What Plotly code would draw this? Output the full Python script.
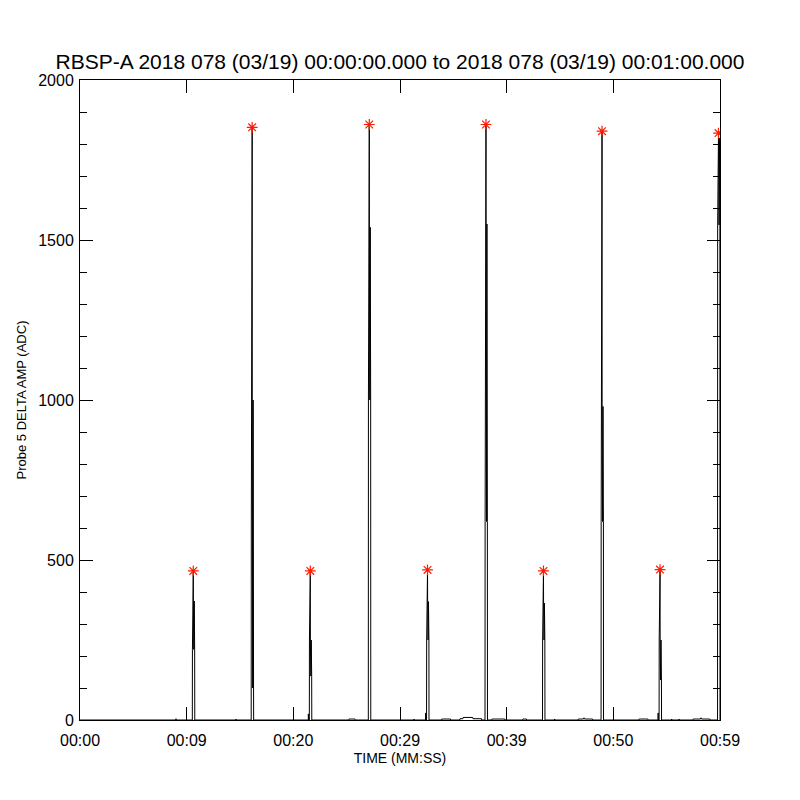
import plotly.graph_objects as go

# Probe 5 delta amplitude samples (time in seconds after 00:00:00, amplitude in ADC)
time_s = [
    0.00, 8.97, 9.00, 9.03,
    10.53, 10.54, 10.62, 10.63, 10.67, 10.71, 10.75, 10.76,
    14.60, 14.63, 14.66,
    16.05, 16.06, 16.14, 16.15, 16.19, 16.23, 16.27, 16.28,
    21.40, 21.41, 21.43, 21.50, 21.51, 21.59, 21.60, 21.64, 21.68, 21.72, 21.73,
    25.20, 25.22, 25.78, 25.80,
    27.03, 27.04, 27.12, 27.13, 27.17, 27.21, 27.25, 27.26,
    31.28, 31.31, 31.34,
    32.39, 32.40, 32.42, 32.49, 32.50, 32.58, 32.59, 32.63, 32.67, 32.71, 32.72,
    33.90, 33.92, 34.73, 34.75,
    35.60, 35.62, 35.90, 35.92, 36.82, 36.84, 37.64, 37.66,
    37.97, 37.98, 38.06, 38.07, 38.11, 38.15, 38.19, 38.20,
    38.60, 38.62, 39.82, 39.84,
    41.50, 41.52, 41.85, 41.87,
    43.36, 43.37, 43.45, 43.46, 43.50, 43.54, 43.58, 43.59,
    44.47, 44.50, 44.53,
    46.69, 46.71, 47.20, 47.25, 47.30, 48.05, 48.07,
    48.85, 48.86, 48.94, 48.95, 48.99, 49.03, 49.07, 49.08,
    52.40, 52.42, 53.23, 53.25,
    54.19, 54.20, 54.22, 54.29, 54.30, 54.38, 54.39, 54.43, 54.47, 54.51, 54.52,
    55.44, 55.47, 55.50, 56.13, 56.16, 56.19,
    57.47, 57.49, 58.17, 58.22, 58.27, 59.04, 59.06,
    59.77, 59.78, 59.86, 59.87, 59.91, 59.95, 59.99, 60.00,
]
amp_adc = [
    0, 0, 4, 0,
    0, 220, 466, 372, 220, 372, 220, 0,
    0, 3, 0,
    0, 600, 1852, 1000, 100, 1000, 100, 0,
    0, 19, 0, 0, 250, 466, 250, 137, 250, 137, 0,
    0, 3, 3, 0,
    0, 1000, 1861, 1540, 1000, 1540, 1000, 0,
    0, 3, 0,
    0, 22, 0, 0, 250, 469, 370, 250, 370, 250, 0,
    0, 3, 3, 0,
    0, 4, 4, 8, 8, 4, 4, 0,
    0, 620, 1861, 1550, 620, 1550, 620, 0,
    0, 3, 3, 0,
    0, 3, 3, 0,
    0, 250, 466, 365, 250, 365, 250, 0,
    0, 3, 0,
    0, 3, 3, 7, 3, 3, 0,
    0, 620, 1840, 980, 620, 980, 620, 0,
    0, 3, 3, 0,
    0, 22, 0, 0, 250, 470, 250, 125, 250, 125, 0,
    0, 3, 0, 0, 3, 0,
    0, 3, 3, 7, 3, 3, 0,
    0, 1547, 1834, 1818, 1547, 1818, 1547, 0,
]

# Detected peaks (red asterisks)
peak_time_s = [10.62, 16.14, 21.59, 27.12, 32.58, 38.06, 43.45, 48.94, 54.38, 59.86]
peak_amp_adc = [466, 1852, 466, 1861, 469, 1861, 466, 1840, 470, 1834]

# Axis ticks
x_tick_vals = [0, 10, 20, 30, 40, 50, 60]
x_tick_text = ["00:00", "00:09", "00:20", "00:29", "00:39", "00:50", "00:59"]

title_text = "RBSP-A 2018 078 (03/19) 00:00:00.000 to 2018 078 (03/19) 00:01:00.000"
FONT = "Liberation Sans, Arial, sans-serif"

fig = go.Figure()
fig.add_trace(go.Scatter(
    x=time_s, y=amp_adc, mode="lines",
    line=dict(color="black", width=1, simplify=False),
    showlegend=False, hoverinfo="skip",
))
fig.add_trace(go.Scatter(
    x=peak_time_s, y=peak_amp_adc, mode="markers",
    marker=dict(symbol="asterisk-open", size=9, color="#ff1a00",
                line=dict(color="#ff1a00", width=1.2)),
    showlegend=False, cliponaxis=True,
))

fig.update_layout(
    width=800, height=800,
    margin=dict(l=80, r=80, t=80, b=80),
    paper_bgcolor="white", plot_bgcolor="white",
    font=dict(family=FONT, color="black", size=16),
    title=dict(text=title_text, x=0.5, xanchor="center", y=1 - 62 / 800,
               yanchor="middle", yref="container",
               font=dict(family=FONT, size=21, color="black")),
)
fig.update_xaxes(
    range=[0, 60], tickmode="array", tickvals=x_tick_vals, ticktext=x_tick_text,
    showgrid=False, zeroline=False, showline=True, linecolor="black", linewidth=1,
    mirror="ticks", ticks="inside", ticklen=13, tickwidth=1, tickcolor="black",
    tickfont=dict(size=16), ticklabelstandoff=6,
    title=dict(text="TIME (MM:SS)", font=dict(size=14), standoff=4),
)
fig.update_yaxes(
    range=[0, 2000], tickmode="linear", tick0=0, dtick=500,
    showgrid=False, zeroline=False, showline=True, linecolor="black", linewidth=1,
    mirror="ticks", ticks="inside", ticklen=13, tickwidth=1, tickcolor="black",
    tickfont=dict(size=16), ticklabelstandoff=2,
    minor=dict(dtick=100, ticks="inside", ticklen=7, tickwidth=1, tickcolor="black",
               showgrid=False),
    title=dict(text="Probe 5 DELTA AMP (ADC)", font=dict(size=13), standoff=8),
)

fig.write_html("out.html", config={"displayModeBar": False},
               post_script="document.body.style.margin='0';")
